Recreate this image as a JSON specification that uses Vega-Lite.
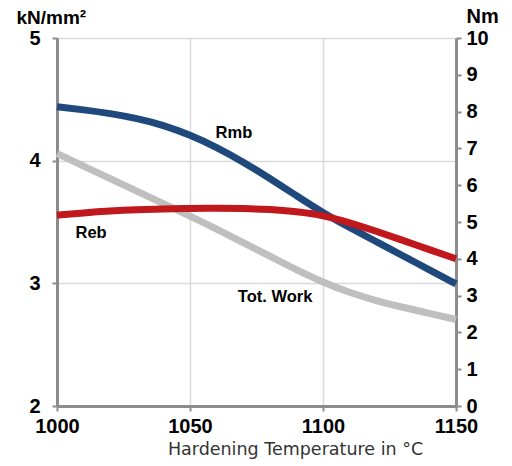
{
  "$schema": "https://vega.github.io/schema/vega-lite/v6.json",
  "width": 399,
  "height": 368,
  "autosize": {"type": "none"},
  "padding": {"left": 57, "top": 38, "right": 56, "bottom": 60},
  "background": "white",
  "config": {"view": {"stroke": null}, "font": "Liberation Sans"},
  "datasets": {
    "curves": [
      {"series": "Rmb", "temp": 1000, "value": 4.44},
      {"series": "Rmb", "temp": 1010, "value": 4.415},
      {"series": "Rmb", "temp": 1020, "value": 4.385},
      {"series": "Rmb", "temp": 1030, "value": 4.345},
      {"series": "Rmb", "temp": 1040, "value": 4.29},
      {"series": "Rmb", "temp": 1050, "value": 4.21},
      {"series": "Rmb", "temp": 1060, "value": 4.11},
      {"series": "Rmb", "temp": 1070, "value": 3.99},
      {"series": "Rmb", "temp": 1080, "value": 3.855},
      {"series": "Rmb", "temp": 1090, "value": 3.715},
      {"series": "Rmb", "temp": 1100, "value": 3.575},
      {"series": "Rmb", "temp": 1110, "value": 3.455},
      {"series": "Rmb", "temp": 1120, "value": 3.34},
      {"series": "Rmb", "temp": 1130, "value": 3.225},
      {"series": "Rmb", "temp": 1140, "value": 3.11},
      {"series": "Rmb", "temp": 1150, "value": 2.995},
      {"series": "Reb", "temp": 1000, "value": 3.555},
      {"series": "Reb", "temp": 1010, "value": 3.575},
      {"series": "Reb", "temp": 1020, "value": 3.59},
      {"series": "Reb", "temp": 1030, "value": 3.60},
      {"series": "Reb", "temp": 1040, "value": 3.607},
      {"series": "Reb", "temp": 1050, "value": 3.61},
      {"series": "Reb", "temp": 1060, "value": 3.612},
      {"series": "Reb", "temp": 1070, "value": 3.61},
      {"series": "Reb", "temp": 1080, "value": 3.603},
      {"series": "Reb", "temp": 1090, "value": 3.585},
      {"series": "Reb", "temp": 1100, "value": 3.555},
      {"series": "Reb", "temp": 1110, "value": 3.495},
      {"series": "Reb", "temp": 1120, "value": 3.425},
      {"series": "Reb", "temp": 1130, "value": 3.35},
      {"series": "Reb", "temp": 1140, "value": 3.275},
      {"series": "Reb", "temp": 1150, "value": 3.2},
      {"series": "Tot. Work", "temp": 1000, "value": 6.86},
      {"series": "Tot. Work", "temp": 1010, "value": 6.52},
      {"series": "Tot. Work", "temp": 1020, "value": 6.18},
      {"series": "Tot. Work", "temp": 1030, "value": 5.84},
      {"series": "Tot. Work", "temp": 1040, "value": 5.5},
      {"series": "Tot. Work", "temp": 1050, "value": 5.16},
      {"series": "Tot. Work", "temp": 1060, "value": 4.81},
      {"series": "Tot. Work", "temp": 1070, "value": 4.44},
      {"series": "Tot. Work", "temp": 1080, "value": 4.07},
      {"series": "Tot. Work", "temp": 1090, "value": 3.70},
      {"series": "Tot. Work", "temp": 1100, "value": 3.36},
      {"series": "Tot. Work", "temp": 1110, "value": 3.08},
      {"series": "Tot. Work", "temp": 1120, "value": 2.86},
      {"series": "Tot. Work", "temp": 1130, "value": 2.68},
      {"series": "Tot. Work", "temp": 1140, "value": 2.52},
      {"series": "Tot. Work", "temp": 1150, "value": 2.35}
    ],
    "labels": [
      {"label": "Rmb", "temp": 1066.5, "value": 4.226},
      {"label": "Reb", "temp": 1012.8, "value": 3.41},
      {"label": "Tot. Work", "temp": 1082, "value": 2.89}
    ]
  },
  "encoding": {
    "x": {
      "field": "temp",
      "type": "quantitative",
      "scale": {"domain": [1000, 1150], "nice": false, "zero": false},
      "axis": {
        "values": [1000, 1050, 1100, 1150],
        "format": "d",
        "grid": true,
        "gridColor": "#d9d9d9",
        "gridWidth": 1.5,
        "domainColor": "#8c8c8c",
        "domainWidth": 3,
        "tickColor": "#8c8c8c",
        "tickWidth": 2,
        "tickSize": 5,
        "labelFont": "Liberation Sans",
        "labelFontSize": 20,
        "labelFontWeight": "bold",
        "labelColor": "#000000",
        "labelPadding": 5,
        "labelFlush": false,
        "labelOverlap": false,
        "title": "Hardening Temperature in °C",
        "titleFont": "DejaVu Sans",
        "titleFontSize": 17.5,
        "titleFontWeight": "normal",
        "titleColor": "#333333",
        "titleAnchor": "start",
        "titleAlign": "center",
        "titleX": 238,
        "titleY": 48,
        "titleBaseline": "alphabetic"
      }
    }
  },
  "layer": [
    {
      "data": {"name": "curves"},
      "transform": [{"filter": "datum.series == 'Tot. Work'"}],
      "mark": {"type": "line", "strokeWidth": 7, "interpolate": "basis", "strokeCap": "butt", "color": "#bfbfbf"},
      "encoding": {
        "y": {
          "field": "value",
          "type": "quantitative",
          "scale": {"domain": [0, 10], "nice": false, "zero": false},
          "axis": {
            "orient": "right",
            "values": [0, 1, 2, 3, 4, 5, 6, 7, 8, 9, 10],
            "format": "d",
            "grid": false,
            "domainColor": "#8c8c8c",
            "domainWidth": 3,
            "tickColor": "#8c8c8c",
            "tickWidth": 2,
            "tickSize": 5,
            "labelFont": "Liberation Sans",
            "labelFontSize": 20,
            "labelFontWeight": "bold",
            "labelColor": "#000000",
            "labelPadding": 5,
            "labelOverlap": false,
            "title": "Nm",
            "titleAngle": 0,
            "titleAlign": "left",
            "titleBaseline": "alphabetic",
            "titleX": 10,
            "titleY": -16,
            "titleFont": "Liberation Sans",
            "titleFontSize": 20,
            "titleFontWeight": "bold",
            "titleColor": "#000000"
          }
        }
      }
    },
    {
      "layer": [
        {
          "data": {"name": "curves"},
          "transform": [{"filter": "datum.series == 'Rmb'"}],
          "mark": {"type": "line", "strokeWidth": 7, "interpolate": "basis", "strokeCap": "butt", "color": "#1f497d"},
          "encoding": {
            "y": {
              "field": "value",
              "type": "quantitative",
              "scale": {"domain": [2, 5], "nice": false, "zero": false},
              "axis": {
                "orient": "left",
                "values": [2, 3, 4, 5],
                "format": "d",
                "grid": true,
                "gridColor": "#d9d9d9",
                "gridWidth": 1.5,
                "domainColor": "#8c8c8c",
                "domainWidth": 3,
                "tickColor": "#8c8c8c",
                "tickWidth": 2,
                "tickSize": 5,
                "labelFont": "Liberation Sans",
                "labelFontSize": 20,
                "labelFontWeight": "bold",
                "labelColor": "#000000",
                "labelPadding": 12,
                "labelOverlap": false,
                "title": "kN/mm²",
                "titleAngle": 0,
                "titleAlign": "left",
                "titleBaseline": "alphabetic",
                "titleX": -41,
                "titleY": -15,
                "titleFont": "Liberation Sans",
                "titleFontSize": 19,
                "titleFontWeight": "bold",
                "titleColor": "#000000"
              }
            }
          }
        },
        {
          "data": {"name": "curves"},
          "transform": [{"filter": "datum.series == 'Reb'"}],
          "mark": {"type": "line", "strokeWidth": 7, "interpolate": "basis", "strokeCap": "butt", "color": "#c0181c"},
          "encoding": {
            "y": {"field": "value", "type": "quantitative"}
          }
        },
        {
          "data": {"name": "labels"},
          "mark": {"type": "text", "font": "Liberation Sans", "fontWeight": "bold", "fontSize": 16.5, "color": "#000000"},
          "encoding": {
            "y": {"field": "value", "type": "quantitative"},
            "text": {"field": "label"}
          }
        }
      ]
    }
  ],
  "resolve": {"scale": {"y": "independent"}}
}
